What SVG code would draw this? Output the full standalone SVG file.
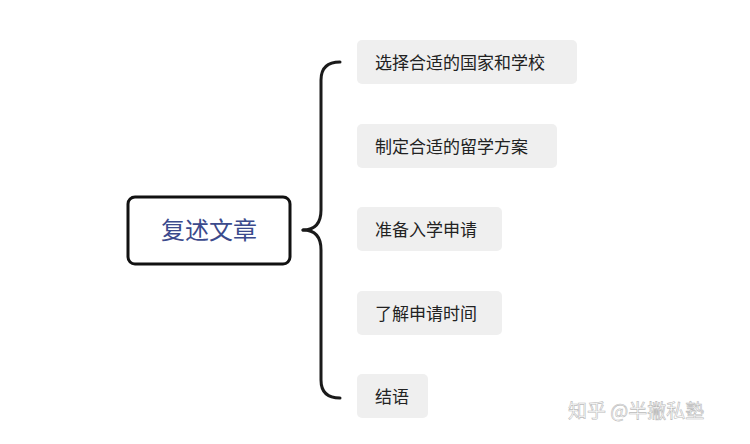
<svg xmlns="http://www.w3.org/2000/svg" width="750" height="444" viewBox="0 0 750 444">
<style>
.n rect{fill:#efefef;}
.n text{font-family:"Noto Sans CJK SC","Noto Sans",sans-serif;font-size:17px;fill:#222;}
</style>
<rect width="750" height="444" fill="#fff"/>
<g id="connectors" fill="none" stroke="#1a1a1a" stroke-width="3" stroke-linecap="round">
<path d="M303 230 Q321 230 321 210 L321 80 Q321 62 340 62"/>
<path d="M303 230 Q321 230 321 250 L321 380 Q321 398 340 398"/>
</g>
<g id="root"><rect x="128" y="197" width="162" height="67" rx="7" fill="#fff" stroke="#111" stroke-width="3"/>
<text x="209" y="239" text-anchor="middle" font-family="Noto Sans CJK SC,sans-serif" font-size="24" fill="#3b4a8c">复述文章</text></g>
<g id="n1" class="n"><rect x="357" y="40" width="220" height="44" rx="5"/><text x="375" y="69">选择合适的国家和学校</text></g>
<g id="n2" class="n"><rect x="357" y="124" width="200" height="44" rx="5"/><text x="375" y="153">制定合适的留学方案</text></g>
<g id="n3" class="n"><rect x="357" y="207" width="145" height="44" rx="5"/><text x="375" y="236">准备入学申请</text></g>
<g id="n4" class="n"><rect x="357" y="291" width="145" height="44" rx="5"/><text x="375" y="320">了解申请时间</text></g>
<g id="n5" class="n"><rect x="357" y="374" width="71" height="44" rx="5"/><text x="375" y="403">结语</text></g>
<text x="568" y="418" font-family="Noto Sans CJK SC,sans-serif" font-size="19" fill="#fff" stroke="#bbb" stroke-width="0.6">知乎 @半撇私塾</text>
</svg>
